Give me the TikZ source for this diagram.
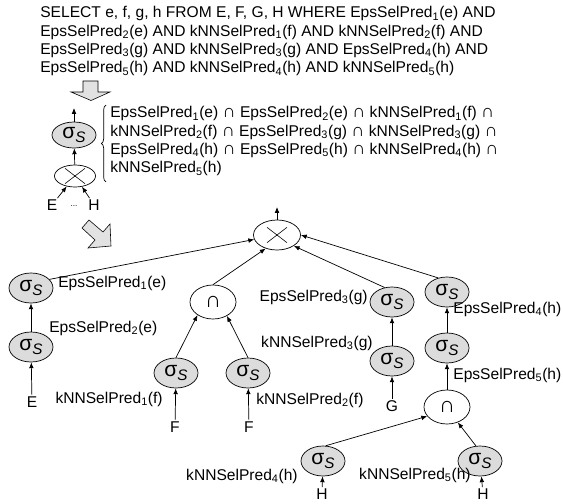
\documentclass[tikz,border=0pt]{standalone}
\usepackage{fontspec}
\setmainfont{Liberation Sans}
\usetikzlibrary{shapes.geometric, arrows.meta, decorations.pathreplacing}
\definecolor{OpGray}{HTML}{DCDCDC}
\definecolor{ArrowGray}{HTML}{E2E2E2}
\newcommand{\selop}{{\fontsize{18}{18}\selectfont σ}\raisebox{-0.5ex}{\fontsize{13}{13}\selectfont\itshape S}}
\newcommand{\isect}{{\fontsize{15.5}{15}\selectfont ∩}}

\begin{document}
\begin{tikzpicture}[
    x=0.03cm, y=-0.03cm,
    line width=0.6pt,
    font=\fontsize{13.3}{15.7}\selectfont,
    sel/.style={
      ellipse, draw, fill=OpGray,
      minimum width=1.32cm, minimum height=0.9cm,
      inner sep=0pt
    },
    cross/.style={
      ellipse, draw, fill=white, inner sep=0pt,
      path picture={
        \draw[line width=0.5pt]
          ([xshift=-0.3cm, yshift=-0.23cm]path picture bounding box.center) --
          ([xshift=0.3cm, yshift=0.23cm]path picture bounding box.center)
          ([xshift=-0.3cm, yshift=0.23cm]path picture bounding box.center) --
          ([xshift=0.3cm, yshift=-0.23cm]path picture bounding box.center);
      }
    },
    inter/.style={
      ellipse, draw, fill=white, inner sep=0pt,
      minimum width=1.38cm, minimum height=1.02cm,
      font=\fontsize{19}{19}\selectfont
    },
    rel/.style={inner sep=1pt},
    pred/.style={inner sep=0pt},
    arr/.style={-{Latex[length=5pt, width=4pt]}},
    bigarrow/.style={draw, fill=ArrowGray, line width=0.5pt}
  ]
    \useasboundingbox (0,0) rectangle (563,503);

    %% Query
    \node[anchor=north west, align=left, inner sep=0pt] (query) at (40,6)
      {SELECT e, f, g, h FROM E, F, G, H WHERE EpsSelPred\textsubscript{1}(e) AND\\
       EpsSelPred\textsubscript{2}(e) AND kNNSelPred\textsubscript{1}(f) AND kNNSelPred\textsubscript{2}(f) AND\\
       EpsSelPred\textsubscript{3}(g) AND kNNSelPred\textsubscript{3}(g) AND EpsSelPred\textsubscript{4}(h) AND\\
       EpsSelPred\textsubscript{5}(h) AND kNNSelPred\textsubscript{4}(h) AND kNNSelPred\textsubscript{5}(h)};

    \draw[bigarrow] (83,81) -- (98,81) -- (98,92) -- (110,92) -- (91,100.5)
      -- (71,92) -- (83,92) -- cycle;

    %% Canonical plan
    \node[sel, minimum height=0.78cm] (qsel) at (74,135) {\selop};
    \node[cross, minimum width=1.23cm, minimum height=0.66cm] (qcross) at (75,176) {};
    \node[rel] (qE) at (52,205) {E};
    \node[rel] (qdots) at (74,206) {\scriptsize ...};
    \node[rel] (qH) at (94,205) {H};
    \coordinate (qout) at (74,108);

    \draw[arr] (qsel) -- (qout);
    \draw[arr] (qcross) -- (qsel);
    \draw[arr] (qE) -- (qcross);
    \draw[arr] (qH) -- (qcross);

    \draw[decorate, decoration={brace, amplitude=4pt}] (106,182) -- (106,105);
    \node[anchor=north west, align=left, inner sep=0pt] (conj) at (110,106)
      {EpsSelPred\textsubscript{1}(e) \isect{} EpsSelPred\textsubscript{2}(e) \isect{} kNNSelPred\textsubscript{1}(f) \isect\\
       kNNSelPred\textsubscript{2}(f) \isect{} EpsSelPred\textsubscript{3}(g) \isect{} kNNSelPred\textsubscript{3}(g) \isect\\
       EpsSelPred\textsubscript{4}(h) \isect{} EpsSelPred\textsubscript{5}(h) \isect{} kNNSelPred\textsubscript{4}(h) \isect\\
       kNNSelPred\textsubscript{5}(h)};

    \draw[bigarrow] (89,220) -- (103,232) -- (110,224) -- (111,246) -- (88,248)
      -- (95,240) -- (82,228) -- cycle;

    %% Optimized plan
    \node[cross, minimum width=1.41cm, minimum height=0.9cm] (top) at (277,235) {};
    \coordinate (topout) at (277,207);

    % E branch
    \node[sel] (eps1) at (31,288) {\selop};
    \node[sel] (eps2) at (31,347) {\selop};
    \node[rel] (relE) at (32,402) {E};
    \node[pred, anchor=west] (eps1lbl) at (58,283) {EpsSelPred\textsubscript{1}(e)};
    \node[pred, anchor=west] (eps2lbl) at (49,328) {EpsSelPred\textsubscript{2}(e)};

    % F branch
    \node[inter] (interF) at (213,302) {∩};
    \node[sel] (knn1) at (176,373) {\selop};
    \node[sel] (knn2) at (248,373) {\selop};
    \node[rel] (relF1) at (175,427) {F};
    \node[rel] (relF2) at (249,427) {F};
    \node[pred, anchor=east] (knn1lbl) at (163,399) {kNNSelPred\textsubscript{1}(f)};
    \node[pred, anchor=west] (knn2lbl) at (256,400) {kNNSelPred\textsubscript{2}(f)};

    % G branch
    \node[sel] (eps3) at (392,302) {\selop};
    \node[sel] (knn3) at (392,361) {\selop};
    \node[rel] (relG) at (392,406) {G};
    \node[pred, anchor=east] (eps3lbl) at (368,297) {EpsSelPred\textsubscript{3}(g)};
    \node[pred, anchor=east] (knn3lbl) at (373,343) {kNNSelPred\textsubscript{3}(g)};

    % H branch
    \node[sel] (eps4) at (447,292) {\selop};
    \node[sel] (eps5) at (447,348) {\selop};
    \node[inter] (interH) at (447,407) {∩};
    \node[sel] (knn4) at (323,461) {\selop};
    \node[sel] (knn5) at (480,461) {\selop};
    \node[rel] (relH1) at (322,494) {H};
    \node[rel] (relH2) at (483,494) {H};
    \node[pred, anchor=west] (eps4lbl) at (453,309) {EpsSelPred\textsubscript{4}(h)};
    \node[pred, anchor=west] (eps5lbl) at (453,375) {EpsSelPred\textsubscript{5}(h)};
    \node[pred, anchor=east] (knn4lbl) at (298,476) {kNNSelPred\textsubscript{4}(h)};
    \node[pred, anchor=east] (knn5lbl) at (471,475) {kNNSelPred\textsubscript{5}(h)};

    %% Draw arrows
    \draw[arr] (top) -- (topout);
    \draw[arr] (relE) -- (eps2);
    \draw[arr] (eps2) -- (eps1);
    \draw[arr] (eps1.25) -- (top);
    \draw[arr] (relF1) -- (knn1);
    \draw[arr] (relF2) -- (knn2);
    \draw[arr] (knn1.north) -- (interF.220);
    \draw[arr] (knn2.north) -- (interF.315);
    \draw[arr] (interF.north) -- (top.230);
    \draw[arr] (relG) -- (knn3);
    \draw[arr] (knn3) -- (eps3);
    \draw[arr] (eps3.117) -- (top.-33);
    \draw[arr] (relH1) -- (knn4);
    \draw[arr] (relH2) -- (knn5);
    \draw[arr] (knn4.80) -- (interH.205);
    \draw[arr] (knn5.105) -- (interH.-55);
    \draw[arr] (interH) -- (eps5);
    \draw[arr] (eps5) -- (eps4);
    \draw[arr] (eps4.122) -- (top.east);
  \end{tikzpicture}
\end{document}
